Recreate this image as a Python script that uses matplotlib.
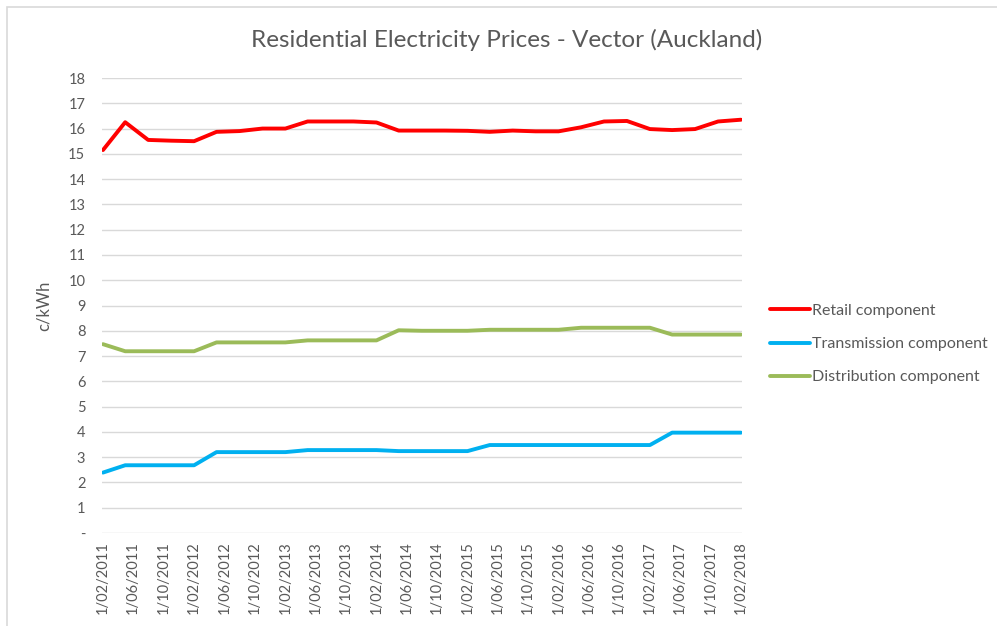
import matplotlib
matplotlib.use("Agg")
import matplotlib.pyplot as plt
import pandas as pd
from matplotlib.patches import Rectangle

plt.rcParams['font.family'] = ['Lato', 'DejaVu Sans']

# quarterly observations, Feb 2011 .. Feb 2018
dates = pd.date_range("2011-02-01", "2018-02-01", freq="3MS")
retail = [15.15, 16.25, 15.55, 15.52, 15.50, 15.87, 15.90, 16.00, 16.00, 16.28,
          16.28, 16.28, 16.24, 15.92, 15.92, 15.92, 15.91, 15.87, 15.92, 15.89,
          15.89, 16.05, 16.28, 16.30, 15.98, 15.94, 15.98, 16.28, 16.35]
transmission = [2.39, 2.68, 2.68, 2.68, 2.68, 3.20, 3.20, 3.20, 3.20, 3.28,
                3.28, 3.28, 3.28, 3.24, 3.24, 3.24, 3.24, 3.48, 3.48, 3.48,
                3.48, 3.48, 3.48, 3.48, 3.48, 3.97, 3.97, 3.97, 3.97]
distribution = [7.47, 7.19, 7.19, 7.19, 7.19, 7.54, 7.54, 7.54, 7.54, 7.62,
                7.62, 7.62, 7.62, 8.02, 8.00, 8.00, 8.00, 8.04, 8.04, 8.04,
                8.04, 8.12, 8.12, 8.12, 8.12, 7.85, 7.85, 7.85, 7.85]
series_labels = ["Retail component", "Transmission component", "Distribution component"]
colors = ["#FF0000", "#00B0F0", "#9BBB59"]
tick_dates = pd.date_range("2011-02-01", "2018-02-01", freq="4MS")

W, H = 997, 626
fig = plt.figure(figsize=(W / 100, H / 100), dpi=100)
ax = fig.add_axes([102 / W, 1 - 533 / H, 640 / W, 455 / H])

grey = "#595959"
for y, lab, c in zip([retail, transmission, distribution], series_labels, colors):
    ax.plot(dates, y, color=c, lw=2.8, label=lab, solid_capstyle="round", solid_joinstyle="round")

ax.set_ylim(0, 18)
ax.set_yticks(range(0, 19))
ax.set_yticklabels(["-"] + [str(i) for i in range(1, 19)])
ax.set_xlim(dates[0] - pd.Timedelta(days=4), dates[-1] + pd.Timedelta(days=4))
ax.set_xticks(tick_dates)
ax.set_xticklabels([f"1/{d.month:02d}/{d.year}" for d in tick_dates], rotation=90)
ax.grid(axis="y", color="#D9D9D9", lw=1.0)
ax.set_axisbelow(True)
for s in ax.spines.values():
    s.set_visible(False)
ax.tick_params(length=0, colors=grey, labelsize=10.5)
ax.tick_params(axis="y", pad=12)
ax.tick_params(axis="x", pad=6)
ax.set_ylabel("c/kWh", color=grey, fontsize=12, labelpad=12)

fig.text(0.508, 1 - 40 / H, "Residential Electricity Prices - Vector (Auckland)",
         ha="center", va="center", fontsize=17.5, color=grey)

ax.legend(loc="center left", bbox_to_anchor=(756 / W, 1 - 344 / H), bbox_transform=fig.transFigure,
          frameon=False, fontsize=11.5, labelcolor=grey, handlelength=2.5, handletextpad=0.12,
          labelspacing=1.2)

# chart border (only top and left visible in the crop)
fig.patches.append(Rectangle((7 / W, -0.1), 1.2, 1 - 7 / H + 0.1, transform=fig.transFigure,
                             fill=False, edgecolor="#D9D9D9", lw=1.2))

fig.savefig("out.png", dpi=100)
